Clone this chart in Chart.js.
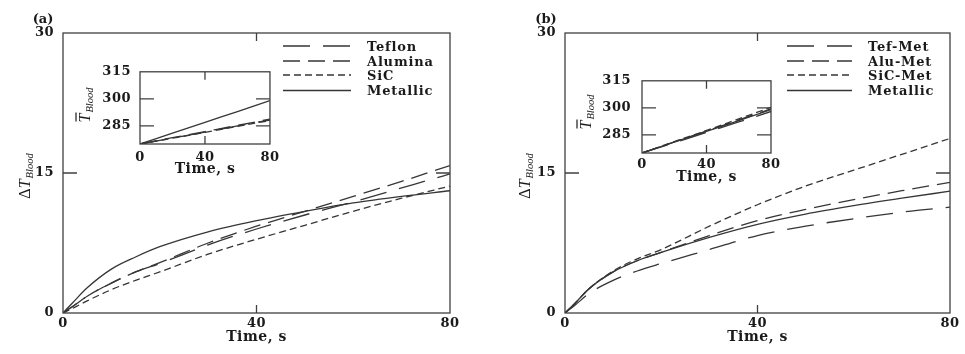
<!DOCTYPE html>
<html><head><meta charset="utf-8">
<script src="https://cdn.jsdelivr.net/npm/chart.js@4.4.1/dist/chart.umd.min.js"></script>
<style>
html,body{margin:0;padding:0;background:#fff;width:965px;height:354px;overflow:hidden;position:relative;}
canvas{position:absolute;}
</style></head><body>
<canvas id="mainA" width="480" height="354" style="left:0px;top:0px"></canvas>
<canvas id="insetA" width="225" height="125" style="left:60px;top:55px"></canvas>
<canvas id="mainB" width="480" height="354" style="left:485px;top:0px"></canvas>
<canvas id="insetB" width="225" height="125" style="left:560px;top:62px"></canvas>
<script>
// ---------- data ----------
const timeMain  = [0, 2, 5, 10, 15, 20, 30, 40, 50, 60, 70, 80];
// panel (a) main: ΔT_Blood
const teflonA   = [0, 0.7, 1.8, 3.2, 4.4, 5.3, 7.3, 9.0, 10.5, 11.9, 13.4, 14.9];
const aluminaA  = [0, 0.7, 1.8, 3.2, 4.4, 5.4, 7.5, 9.3, 10.9, 12.5, 14.1, 15.8];
const sicA      = [0, 0.5, 1.3, 2.5, 3.5, 4.4, 6.3, 7.9, 9.4, 10.9, 12.3, 13.6];
const metallicA = [0, 1.1, 2.7, 4.7, 6.0, 7.1, 8.7, 9.9, 10.9, 11.8, 12.5, 13.1];
// panel (b) main: ΔT_Blood
const tefMetB   = [0, 0.8, 2.1, 3.5, 4.5, 5.3, 6.8, 8.3, 9.3, 10.1, 10.8, 11.35];
const aluMetB   = [0, 1.0, 2.6, 4.4, 5.6, 6.5, 8.3, 9.9, 11.1, 12.15, 13.1, 14.0];
const sicMetB   = [0, 1.0, 2.6, 4.5, 5.8, 6.8, 9.3, 11.6, 13.6, 15.3, 17.0, 18.7];
const metallicB = [0, 1.0, 2.6, 4.4, 5.6, 6.5, 8.1, 9.5, 10.6, 11.5, 12.3, 13.05];
// insets: mean blood temperature
const timeInset    = [0, 20, 40, 60, 80];
const teflonInA    = [275, 278.3, 281.6, 285.0, 288.3];
const aluminaInA   = [275, 278.5, 281.9, 285.3, 288.8];
const sicInA       = [275, 278.2, 281.4, 284.8, 288.0];
const metallicInA  = [275, 281.0, 287.0, 293.0, 299.0];
const tefMetInB    = [275, 280.7, 286.4, 292.2, 298.0];
const aluMetInB    = [275, 281.1, 287.2, 293.3, 299.5];
const sicMetInB    = [275, 281.3, 287.5, 293.9, 300.3];
const metallicInB  = [275, 281.0, 287.0, 293.0, 299.0];
// ticks and labels
const mainXTicks  = [0, 40, 80];
const mainYTicks  = [0, 15, 30];
const insetXTicks = [0, 40, 80];
const insetYTicks = [285, 300, 315];
const labelsA = ['Teflon', 'Alumina', 'SiC', 'Metallic'];
const labelsB = ['Tef-Met', 'Alu-Met', 'SiC-Met', 'Metallic'];

// ---------- styles ----------
const FAMILY = 'DejaVu Serif';
const TXT = '#1a1a1a';
const LINE = '#363636';
const DASHES = [[27, 13], [17, 8], [7, 4], []];

function series(xs, ys) { return xs.map((t, i) => ({x: t, y: ys[i]})); }
function ds(label, xs, ys, k) {
  return { label, data: series(xs, ys), borderColor: LINE, borderWidth: 1.3,
    borderDash: DASHES[k], pointRadius: 0, fill: false, cubicInterpolationMode: 'monotone' };
}

const decoPlugin = {
  id: 'deco',
  beforeDraw(chart) { chart.ctx.letterSpacing = '0.5px'; },
  afterDatasetsDraw(chart, args, o) {
    const {ctx, chartArea: a, scales: {x, y}} = chart;
    ctx.save();
    ctx.letterSpacing = '0px';
    ctx.setLineDash([]);
    ctx.strokeStyle = '#404040';
    ctx.lineWidth = 1.3;
    ctx.strokeRect(a.left, a.top, a.right - a.left, a.bottom - a.top);
    ctx.beginPath();
    o.xTicks.filter(v => v > x.min && v < x.max).forEach(v => {
      const p = x.getPixelForValue(v);
      ctx.moveTo(p, a.bottom); ctx.lineTo(p, a.bottom - o.vLen);
      ctx.moveTo(p, a.top); ctx.lineTo(p, a.top + o.vLen);
    });
    o.yTicks.filter(v => v > y.min && v < y.max).forEach(v => {
      const p = y.getPixelForValue(v);
      ctx.moveTo(a.left, p); ctx.lineTo(a.left + o.hLen, p);
      ctx.moveTo(a.right, p); ctx.lineTo(a.right - o.hLen, p);
    });
    ctx.stroke();

    // rotated y title with subscript
    ctx.fillStyle = TXT;
    ctx.translate(o.title.x, o.title.y);
    ctx.rotate(-Math.PI / 2);
    ctx.textBaseline = 'alphabetic';
    const mainFont = 'italic 16px "Liberation Serif"';
    const deltaFont = '16px "Liberation Serif"';
    const subFont = 'italic 10.5px "Liberation Serif"';
    const pre = o.title.delta ? 'Δ' : '';
    ctx.font = deltaFont; const wD = ctx.measureText(pre).width;
    ctx.font = mainFont; const wT = ctx.measureText('T').width;
    ctx.font = subFont; const wS = ctx.measureText('Blood').width;
    let cx = -(wD + wT + wS + 1) / 2;
    ctx.font = deltaFont; ctx.fillText(pre, cx, 5); cx += wD;
    ctx.font = mainFont; ctx.fillText('T', cx, 5);
    if (o.title.bar) {
      ctx.beginPath(); ctx.lineWidth = 1.2; ctx.strokeStyle = TXT;
      ctx.moveTo(cx + 1, -9); ctx.lineTo(cx + wT + 1, -9); ctx.stroke();
    }
    cx += wT + 1;
    ctx.font = subFont; ctx.fillText('Blood', cx, 8);
    ctx.restore();

    // legend and panel tag
    if (o.legend) {
      const L = o.legend;
      ctx.save();
      ctx.strokeStyle = LINE; ctx.lineWidth = 1.3;
      ctx.fillStyle = TXT;
      ctx.font = 'bold 13px "' + FAMILY + '"';
      ctx.letterSpacing = '0.8px';
      ctx.textBaseline = 'middle';
      chart.data.datasets.forEach((d, i) => {
        const yy = L.rows[i];
        ctx.setLineDash(d.borderDash || []);
        ctx.beginPath(); ctx.moveTo(L.x1, yy); ctx.lineTo(L.x2, yy); ctx.stroke();
        ctx.fillText(d.label, L.tx, yy + 1.5);
      });
      ctx.setLineDash([]);
      ctx.letterSpacing = '0px';
      ctx.textAlign = 'center';
      ctx.fillText(o.tag.text, o.tag.x, o.tag.y);
      ctx.restore();
    }
  }
};

function axes(xmin, xmax, xt, ymin, ymax, yt, yWidth, xHeight, xPad, yPad, titleBottom) {
  return {
    x: { type: 'linear', min: xmin, max: xmax,
      afterBuildTicks: s => { s.ticks = xt.map(v => ({value: v})); },
      ticks: { font: {family: FAMILY, size: 13, weight: 'bold'}, color: TXT, padding: xPad, maxRotation: 0, autoSkip: false },
      grid: { display: false, drawTicks: false }, border: { display: false },
      title: { display: true, text: 'Time, s', color: TXT, font: {family: FAMILY, size: 14, weight: 'bold'}, padding: {top: 0, bottom: titleBottom} },
      afterFit: s => { s.height = xHeight; } },
    y: { type: 'linear', min: ymin, max: ymax,
      afterBuildTicks: s => { s.ticks = yt.map(v => ({value: v})); },
      ticks: { font: {family: FAMILY, size: 13, weight: 'bold'}, color: TXT, padding: yPad, autoSkip: false },
      grid: { display: false, drawTicks: false }, border: { display: false },
      title: { display: false },
      afterFit: s => { s.width = yWidth; } }
  };
}

function make(id, datasets, scales, padding, deco) {
  return new Chart(document.getElementById(id), {
    type: 'line',
    data: { datasets },
    options: {
      responsive: false, animation: false, devicePixelRatio: 1,
      layout: { padding },
      plugins: { legend: {display: false}, tooltip: {enabled: false}, deco },
      scales
    },
    plugins: [decoPlugin]
  });
}

// panel (a) main
make('mainA', [
  ds(labelsA[0], timeMain, teflonA, 0),
  ds(labelsA[1], timeMain, aluminaA, 1),
  ds(labelsA[2], timeMain, sicA, 2),
  ds(labelsA[3], timeMain, metallicA, 3)
], axes(0, 80, mainXTicks, 0, 30, mainYTicks, 63, 41, 3, 9, 8),
 {left: 0, top: 33, right: 30, bottom: 0},
 { xTicks: mainXTicks, yTicks: mainYTicks, vLen: 8, hLen: 14,
   title: {x: 25, y: 176, delta: true},
   legend: {x1: 283, x2: 351, tx: 367, rows: [46, 61, 75, 90.5]},
   tag: {text: '(a)', x: 43, y: 20} });

// panel (a) inset
make('insetA', [
  ds(labelsA[0], timeInset, teflonInA, 0),
  ds(labelsA[1], timeInset, aluminaInA, 1),
  ds(labelsA[2], timeInset, sicInA, 2),
  ds(labelsA[3], timeInset, metallicInA, 3)
], axes(0, 80, insetXTicks, 275, 315, insetYTicks, 80, 36, 6, 9, 2),
 {left: 0, top: 10, right: 15, bottom: 0},
 { xTicks: insetXTicks, yTicks: insetYTicks, vLen: 8, hLen: 14,
   title: {x: 25, y: 50, bar: true} });

// panel (b) main
make('mainB', [
  ds(labelsB[0], timeMain, tefMetB, 0),
  ds(labelsB[1], timeMain, aluMetB, 1),
  ds(labelsB[2], timeMain, sicMetB, 2),
  ds(labelsB[3], timeMain, metallicB, 3)
], axes(0, 80, mainXTicks, 0, 30, mainYTicks, 80, 41, 3, 9, 8),
 {left: 0, top: 33, right: 15, bottom: 0},
 { xTicks: mainXTicks, yTicks: mainYTicks, vLen: 8, hLen: 14,
   title: {x: 40, y: 176, delta: true},
   legend: {x1: 302, x2: 367, tx: 383, rows: [46, 61, 75, 90.5]},
   tag: {text: '(b)', x: 61, y: 20} });

// panel (b) inset
make('insetB', [
  ds(labelsB[0], timeInset, tefMetInB, 0),
  ds(labelsB[1], timeInset, aluMetInB, 1),
  ds(labelsB[2], timeInset, sicMetInB, 2),
  ds(labelsB[3], timeInset, metallicInB, 3)
], axes(0, 80, insetXTicks, 275, 315, insetYTicks, 82, 34, 4, 11, 1),
 {left: 0, top: 11, right: 14, bottom: 0},
 { xTicks: insetXTicks, yTicks: insetYTicks, vLen: 8, hLen: 14,
   title: {x: 26, y: 50, bar: true} });
</script>
</body></html>
